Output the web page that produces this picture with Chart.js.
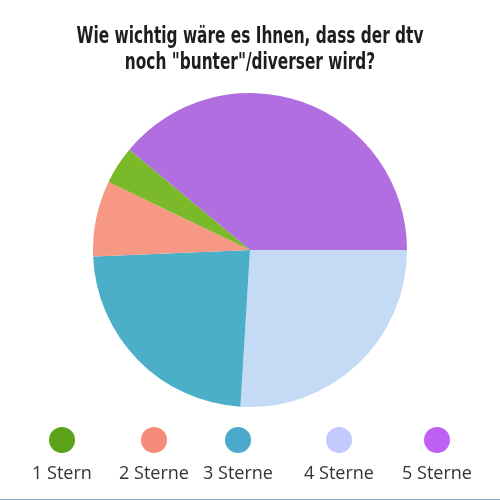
<!DOCTYPE html>
<html>
<head>
<meta charset="utf-8">
<script src="https://cdn.jsdelivr.net/npm/chart.js@4/dist/chart.umd.min.js"></script>
<style>
  body { margin: 0; background: #fff; }
  #wrap { position: relative; width: 500px; height: 499px; border-bottom: 1px solid #8eaec6; overflow: hidden; }
  #chart { position: absolute; left: 0; top: 0; }
  #title { position: absolute; left: 0; top: 22px; width: 500px; text-align: center;
           font-family: "DejaVu Sans Condensed", "DejaVu Sans", sans-serif; font-weight: bold;
           font-size: 23px; line-height: 26px; color: #1e1e1e; transform: scaleX(0.742); transform-origin: 250px 0; }
  .item { position: absolute; top: 427px; width: 100px; margin-left: -50px; text-align: center;
          font-family: "Open Sans", sans-serif; font-size: 18px; line-height: 24px; color: #333; }
  .item .dot { display: block; width: 26px; height: 26px; border-radius: 50%; margin: 0 auto 7px auto; }
</style>
</head>
<body>
<div id="wrap">
  <canvas id="chart" width="500" height="500"></canvas>
  <div id="title"></div>
  <div id="legend"></div>
</div>
<script>
// Antworten (Anzahl), gelesen aus den Kreissegmenten
var labels = ['1 Stern', '2 Sterne', '3 Sterne', '4 Sterne', '5 Sterne'];
var values = [3, 6, 18, 20, 30];
var sliceColors = ['#7ab929', '#f69883', '#4bafc8', '#c5daf5', '#b06ee0'];
var legendColors = ['#5aa318', '#f58a78', '#4aa9cb', '#c4c9ff', '#bf60f5'];
var titleLines = ['Wie wichtig wäre es Ihnen, dass der dtv', 'noch "bunter"/diverser wird?'];

// legend item centers (x, px)
var legendX = [62, 154, 238, 339, 437];

var Survey_Pie =
{
    init: function()
    {
        this.drawTitle();
        this.drawPie();
        this.drawLegend();
    },

    drawTitle: function()
    {
        var el = document.getElementById('title');
        for (var i = 0; i < titleLines.length; i++) {
            var line = document.createElement('div');
            line.textContent = titleLines[i];
            el.appendChild(line);
        }
    },

    drawPie: function()
    {
        // slices run clockwise 5 -> 1, so feed the data reversed
        var data = {
            labels: labels.slice().reverse(),
            datasets: [{
                data: values.slice().reverse(),
                backgroundColor: sliceColors.slice().reverse(),
                borderWidth: 0
            }]
        };

        new Chart(document.getElementById('chart'), {
            type: 'pie',
            data: data,
            options: {
                responsive: false,
                animation: false,
                rotation: 309.74,
                layout: { padding: { top: 93, bottom: 93 } },
                plugins: {
                    legend: { display: false },
                    tooltip: { enabled: false },
                    title: { display: false }
                }
            }
        });
    },

    drawLegend: function()
    {
        var html = '';
        for (var i = 0; i < labels.length; i++) {
            html += '<div class="item" style="left:' + legendX[i] + 'px">'
                 + '<span class="dot" style="background:' + legendColors[i] + '"></span>'
                 + labels[i] + '</div>';
        }
        document.getElementById('legend').innerHTML = html;
    }
}
Survey_Pie.init();
</script>
</body>
</html>
